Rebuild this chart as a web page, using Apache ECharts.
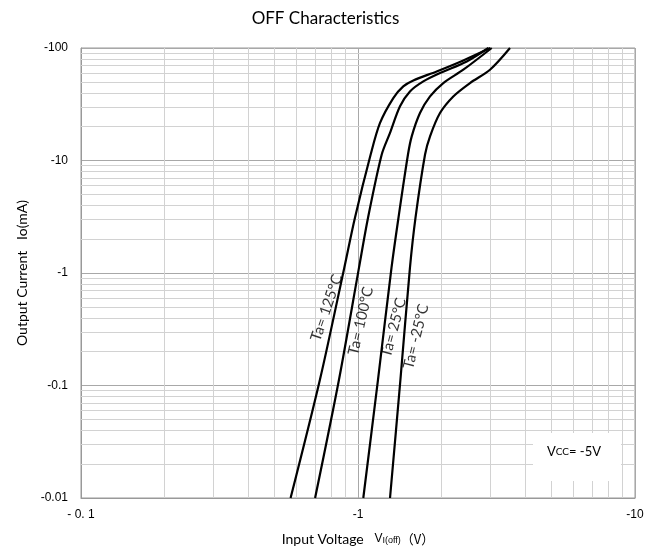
<!DOCTYPE html>
<html>
<head>
<meta charset="utf-8">
<script src="https://cdn.jsdelivr.net/npm/echarts@6/dist/echarts.min.js"></script>
<style>html,body{margin:0;padding:0;background:#fff;}#c{width:651px;height:553px;}</style>
</head>
<body>
<div id="c"></div>
<script>
// Magnitudes of input voltage |VI(off)| (V) and output current |Io| (mA); labels show the negative sign.
const xTickLabels = {0.1: '- 0. 1', 1: '-1', 10: '-10'};
const yTickLabels = {0.01: '-0.01', 0.1: '-0.1', 1: '-1', 10: '-10', 100: '-100'};
const minorMultipliers = [2, 3, 4, 5, 6, 7, 8, 9];
const xDecades = [0.1, 1];
const yDecades = [0.01, 0.1, 1, 10];

const ta125 = [[0.571,0.01],[0.729,0.113],[0.892,1.11],[0.975,3.1],[1.111,11.3],[1.2,21.5],[1.341,35.9],[1.457,45.6],[1.584,51.5],[1.923,61.9],[2.4,77.6],[3.0,100]];
const ta100 = [[0.70,0.01],[0.854,0.113],[1.008,1.11],[1.087,3.1],[1.218,11.3],[1.305,17.6],[1.418,30.3],[1.54,41.1],[1.721,50.5],[1.977,59.9],[2.469,76],[2.954,100]];
const ta25 = [[1.045,0.01],[1.181,0.113],[1.321,1.11],[1.40,3.1],[1.515,11.3],[1.563,16.4],[1.674,26.4],[1.82,37.1],[2.032,48.8],[2.4,64.1],[3.039,100]];
const taM25 = [[1.305,0.01],[1.423,0.113],[1.54,1.11],[1.613,3.1],[1.746,11.3],[1.82,16.4],[1.977,26.4],[2.208,37.1],[2.537,48.8],[2.996,64.1],[3.538,100]];

const curveNames = ['Ta= 125°C', 'Ta= 100°C', 'Ta= 25°C', 'Ta= -25°C'];
const curveData = [ta125, ta100, ta25, taM25];
// label anchor points (data coords) and rotation
const labelAnchors = [[0.77,0.49],[1.023,0.374],[1.345,0.327],[1.62,0.272]];
const labelRotate = [71, 77, 75, 76];

const minorX = [];
xDecades.forEach(d => minorMultipliers.forEach(m => minorX.push({xAxis: +(d*m).toPrecision(3)})));
const minorY = [];
yDecades.forEach(d => minorMultipliers.forEach(m => minorY.push({yAxis: +(d*m).toPrecision(3)})));

const FONT = 'Lato, "Noto Sans CJK JP", sans-serif';

const chart = echarts.init(document.getElementById('c'), null, {renderer: 'canvas'});
const series = [{
  type: 'line',
  data: [[0.1, 0.01]],
  symbol: 'none',
  lineStyle: {width: 0},
  z: 1,
  silent: true,
  markLine: {
    silent: true,
    symbol: 'none',
    animation: false,
    label: {show: false},
    lineStyle: {color: '#d2d2d2', width: 1, type: 'solid'},
    emphasis: {disabled: true},
    data: minorX.concat(minorY)
  }
}];
curveData.forEach((d, i) => {
  series.push({
    type: 'line',
    name: curveNames[i],
    data: d,
    smooth: 0.3,
    symbol: 'none',
    z: 5,
    lineStyle: {color: '#000', width: 2.2},
    animation: false
  });
});
series.push({
  type: 'scatter',
  symbolSize: 0,
  z: 6,
  silent: true,
  animation: false,
  data: labelAnchors.map((p, i) => ({
    value: p,
    label: {
      show: true,
      position: 'inside',
      formatter: curveNames[i],
      rotate: labelRotate[i],
      color: '#000',
      fontSize: 15,
      fontFamily: FONT,
      align: 'center',
      verticalAlign: 'middle'
    }
  }))
});

chart.setOption({
  animation: false,
  backgroundColor: '#fff',
  title: {
    text: 'OFF Characteristics',
    left: 'center',
    top: 5,
    textStyle: {fontSize: 17, fontWeight: 'normal', color: '#000', fontFamily: FONT}
  },
  grid: {left: 81, right: 16, top: 48, bottom: 55, show: true, borderColor: '#999', borderWidth: 1},
  xAxis: {
    type: 'log',
    logBase: 10,
    min: 0.1,
    max: 10,
    splitNumber: 2,
    axisLine: {lineStyle: {color: '#999'}},
    axisTick: {show: false},
    splitLine: {show: true, lineStyle: {color: '#a8a8a8', width: 1}},
    axisLabel: {
      color: '#000', fontSize: 12, fontFamily: 'Liberation Sans, Arial, sans-serif', margin: 11,
      formatter: v => xTickLabels[+v.toPrecision(3)] || ''
    },
    name: '{n|Input Voltage   }{v|V}{s|I(off)}{p|（V）}',
    nameLocation: 'middle',
    nameGap: 34,
    nameTextStyle: {
      rich: {
        n: {fontSize: 14, fontFamily: FONT, color: '#000'},
        v: {fontSize: 12, fontFamily: 'Liberation Sans, Arial, sans-serif', color: '#000'},
        s: {fontSize: 9, fontFamily: 'Liberation Sans, Arial, sans-serif', color: '#000', padding: [3, 0, 0, 0]},
        p: {fontSize: 13, fontFamily: '"Noto Sans CJK JP", sans-serif', color: '#000'}
      }
    }
  },
  yAxis: {
    type: 'log',
    logBase: 10,
    min: 0.01,
    max: 100,
    splitNumber: 4,
    axisLine: {show: true, lineStyle: {color: '#999'}},
    axisTick: {show: false},
    splitLine: {show: true, lineStyle: {color: '#a8a8a8', width: 1}},
    axisLabel: {
      color: '#000', fontSize: 12, fontFamily: 'Liberation Sans, Arial, sans-serif', margin: 13,
      formatter: v => yTickLabels[+v.toPrecision(3)] || ''
    },
    name: 'Output Current   Io(mA)',
    nameLocation: 'middle',
    nameGap: 52,
    nameTextStyle: {fontSize: 14, fontFamily: FONT, color: '#000'}
  },
  graphic: [{
    type: 'rect',
    shape: {x: 533, y: 433, width: 88, height: 48},
    style: {fill: '#fff'},
    z: 100
  }, {
    type: 'text',
    x: 574,
    y: 452,
    z: 101,
    style: {
      text: '{a|V}{b|CC}{a|= -5V}',
      align: 'center',
      verticalAlign: 'middle',
      rich: {
        a: {fontSize: 13, fontFamily: FONT, fill: '#000', color: '#000'},
        b: {fontSize: 10, fontFamily: FONT, fill: '#000', color: '#000'}
      }
    }
  }],
  series: series
});
</script>
</body>
</html>
